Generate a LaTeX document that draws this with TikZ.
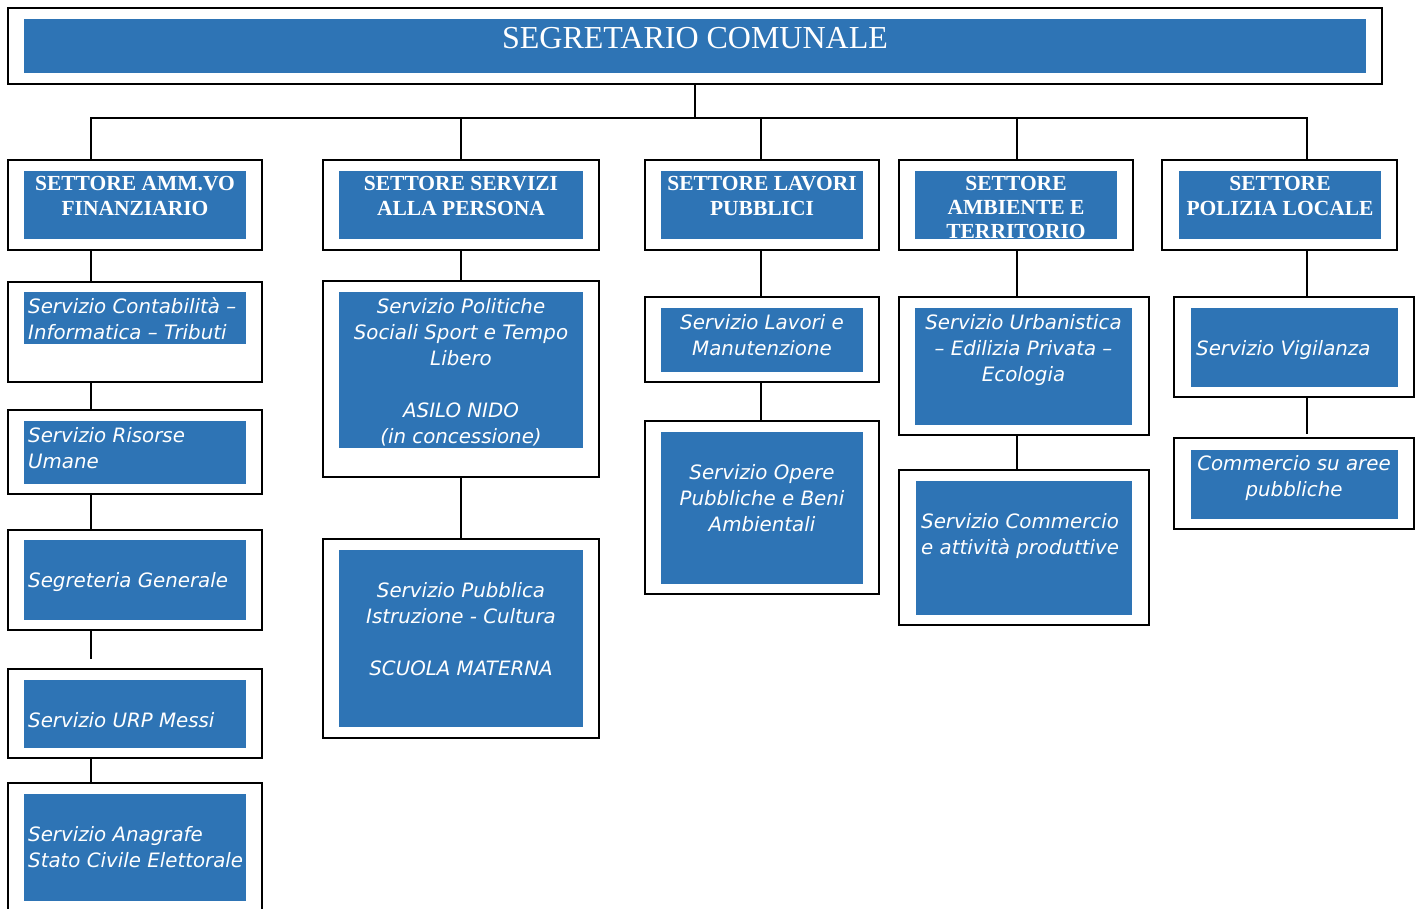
\documentclass[tikz,border=0pt]{standalone}
\usepackage{fontspec}
\setmainfont{Liberation Serif}
\newfontfamily\corsivo{DejaVu Sans Oblique}
\usetikzlibrary{calc}
\definecolor{blu}{RGB}{46,116,181}

\begin{document}
\begin{tikzpicture}[x=1pt, y=-1pt,
  cornice/.style={draw, line width=2pt, inner sep=0pt, outer sep=0pt, anchor=north west},
  filo/.style={line width=2pt},
  titolo/.style={text=white, inner sep=0pt, anchor=base, font=\fontsize{32}{38}\selectfont},
  settore/.style={text=white, inner sep=0pt, align=center, anchor=north, yshift=14.6pt,
    font=\fontsize{21.5}{25}\selectfont\bfseries},
  serv/.style={text=white, inner sep=0pt, yshift=15.2pt,
    font=\fontsize{19.8}{26}\selectfont\corsivo},
  servc/.style={serv, align=center, anchor=north},
  servl/.style={serv, align=left, anchor=north west}]
  \useasboundingbox (0,0) rectangle (1418,909);
  \clip (0,0) rectangle (1418,909);
  % segretario
  \node[cornice, minimum width=1374pt, minimum height=76pt] (segr) at (8,8) {};
  \fill[blu] (24,19) rectangle (1366,73);
  \node[titolo] (segr-t) at (695,48.5) {SEGRETARIO COMUNALE};
  % settori
  \node[cornice, minimum width=254pt, minimum height=90pt] (amm) at (8,160) {};
  \fill[blu] (24,171) rectangle (246,239);
  \node[settore] (amm-t) at (135,191) {SETTORE AMM.VO\\FINANZIARIO};
  \node[cornice, minimum width=276pt, minimum height=90pt] (pers) at (323,160) {};
  \fill[blu] (339,171) rectangle (583,239);
  \node[settore] (pers-t) at (461,191) {SETTORE SERVIZI\\ALLA PERSONA};
  \node[cornice, minimum width=234pt, minimum height=90pt] (lav) at (645,160) {};
  \fill[blu] (661,171) rectangle (863,239);
  \node[settore] (lav-t) at (762,191) {SETTORE LAVORI\\PUBBLICI};
  \node[cornice, minimum width=234pt, minimum height=90pt] (amb) at (899,160) {};
  \fill[blu] (915,171) rectangle (1117,239);
  \node[settore] (amb-t) at (1016,191) {SETTORE\\[-1pt]AMBIENTE E\\[-1pt]TERRITORIO};
  \node[cornice, minimum width=235pt, minimum height=90pt] (pol) at (1162,160) {};
  \fill[blu] (1179,171) rectangle (1381,239);
  \node[settore] (pol-t) at (1280,191) {SETTORE\\POLIZIA LOCALE};
  % servizi amm.vo finanziario
  \node[cornice, minimum width=254pt, minimum height=100pt] (contab) at (8,282) {};
  \fill[blu] (24,292) rectangle (246,344);
  \node[servl] (contab-t) at (28,313) {Servizio Contabilità –\\Informatica – Tributi};
  \node[cornice, minimum width=254pt, minimum height=84pt] (risorse) at (8,410) {};
  \fill[blu] (24,421) rectangle (246,484);
  \node[servl] (risorse-t) at (28,442) {Servizio Risorse\\Umane};
  \node[cornice, minimum width=254pt, minimum height=100pt] (segret) at (8,530) {};
  \fill[blu] (24,540) rectangle (246,620);
  \node[servl] (segret-t) at (28,587) {Segreteria Generale};
  \node[cornice, minimum width=254pt, minimum height=89pt] (urp) at (8,669) {};
  \fill[blu] (24,680) rectangle (246,748);
  \node[servl] (urp-t) at (28,727) {Servizio URP Messi};
  \node[cornice, minimum width=254pt, minimum height=160pt] (anagr) at (8,783) {};
  \fill[blu] (24,794) rectangle (246,901);
  \node[servl] (anagr-t) at (28,841) {Servizio Anagrafe\\Stato Civile Elettorale};
  % servizi alla persona
  \node[cornice, minimum width=276pt, minimum height=196pt] (polsoc) at (323,281) {};
  \fill[blu] (339,292) rectangle (583,448);
  \node[servc] (polsoc-t) at (461,313) {Servizio Politiche\\Sociali Sport e Tempo\\Libero\\[26pt]ASILO NIDO\\(in concessione)};
  \node[cornice, minimum width=276pt, minimum height=199pt] (istr) at (323,539) {};
  \fill[blu] (339,550) rectangle (583,727);
  \node[servc] (istr-t) at (461,597) {Servizio Pubblica\\Istruzione - Cultura\\[26pt]SCUOLA MATERNA};
  % lavori pubblici
  \node[cornice, minimum width=234pt, minimum height=85pt] (manut) at (645,297) {};
  \fill[blu] (661,308) rectangle (863,372);
  \node[servc] (manut-t) at (762,329) {Servizio Lavori e\\Manutenzione};
  \node[cornice, minimum width=234pt, minimum height=173pt] (opere) at (645,421) {};
  \fill[blu] (661,432) rectangle (863,584);
  \node[servc] (opere-t) at (762,479) {Servizio Opere\\Pubbliche e Beni\\Ambientali};
  % ambiente e territorio
  \node[cornice, minimum width=250pt, minimum height=138pt] (urban) at (899,297) {};
  \fill[blu] (915,308) rectangle (1132,425);
  \node[servc] (urban-t) at (1023.5,329) {Servizio Urbanistica\\– Edilizia Privata –\\Ecologia};
  \node[cornice, minimum width=250pt, minimum height=155pt] (comm) at (899,470) {};
  \fill[blu] (916,481) rectangle (1132,615);
  \node[servl] (comm-t) at (921,528) {Servizio Commercio\\e attività produttive};
  % polizia locale
  \node[cornice, minimum width=240pt, minimum height=100pt] (vigil) at (1174,297) {};
  \fill[blu] (1191,308) rectangle (1398,387);
  \node[servl] (vigil-t) at (1196,355) {Servizio Vigilanza};
  \node[cornice, minimum width=240pt, minimum height=91pt] (aree) at (1174,438) {};
  \fill[blu] (1191,450) rectangle (1398,519);
  \node[servc] (aree-t) at (1294,470) {Commercio su aree\\pubbliche};
  % collegamenti
  \coordinate (b1) at (91,118);
  \coordinate (b2) at (461,118);
  \coordinate (b3) at (761,118);
  \coordinate (b4) at (1017,118);
  \coordinate (b5) at (1307,118);
  \draw[filo] (segr.south) -- (segr.south |- b1);
  \draw[filo] (b1 |- amm.north) -- (b1) -- (b5) -- (b5 |- pol.north);
  \draw[filo] (b2) -- (b2 |- pers.north) (b3) -- (b3 |- lav.north) (b4) -- (b4 |- amb.north);
  \draw[filo] (b1 |- amm.south) -- (b1 |- contab.north) (b1 |- contab.south) -- (b1 |- risorse.north)
    (b1 |- risorse.south) -- (b1 |- segret.north) (b1 |- segret.south) -- ++(0,29)
    (b1 |- urp.south) -- (b1 |- anagr.north);
  \draw[filo] (b2 |- pers.south) -- (b2 |- polsoc.north) (b2 |- polsoc.south) -- (b2 |- istr.north);
  \draw[filo] (b3 |- lav.south) -- (b3 |- manut.north) (b3 |- manut.south) -- (b3 |- opere.north);
  \draw[filo] (b4 |- amb.south) -- (b4 |- urban.north) (b4 |- urban.south) -- (b4 |- comm.north);
  \draw[filo] (b5 |- pol.south) -- (b5 |- vigil.north) (b5 |- vigil.south) -- ++(0,37);
\end{tikzpicture}
\end{document}
